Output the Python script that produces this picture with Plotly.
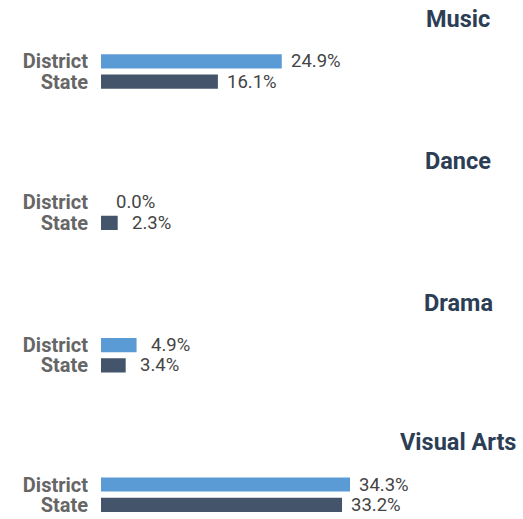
import plotly.graph_objects as go

groups = ["Music", "Dance", "Drama", "Visual Arts"]
series = ["District", "State"]
district = [24.9, 0.0, 4.9, 34.3]
state = [16.1, 2.3, 3.4, 33.2]
value_labels_d = ["24.9%", "0.0%", "4.9%", "34.3%"]
value_labels_s = ["16.1%", "2.3%", "3.4%", "33.2%"]

W, H = 523, 519
colors = ["#5b9bd5", "#44546a"]
# vertical pixel centres of each group's pair of bars, and title centres
bar_centres = [70.0, 212.3, 356.0, 496.5]
title_centres = [16.8, 160.2, 303.2, 443.7]
half = 20.5

fig = go.Figure()
layout = dict(
    width=W, height=H,
    margin=dict(l=0, r=0, t=0, b=0),
    paper_bgcolor="white", plot_bgcolor="white",
    showlegend=False,
    bargap=0.3,
    font=dict(family="Roboto"),
)
annotations = []
xmax = 422 / 7.26
for i, g in enumerate(groups):
    n = "" if i == 0 else str(i + 1)
    vals = [district[i], state[i]]
    labs = [value_labels_d[i], value_labels_s[i]]
    fig.add_trace(go.Bar(
        x=vals, y=series, orientation="h",
        marker=dict(color=colors, line=dict(width=0)),
        xaxis="x" + n, yaxis="y" + n, hoverinfo="skip",
    ))
    c = bar_centres[i]
    layout["xaxis" + n] = dict(
        domain=[101 / W, 1], range=[0, xmax], visible=False,
        anchor="y" + n, fixedrange=True,
    )
    layout["yaxis" + n] = dict(
        domain=[1 - (c + half) / H, 1 - (c - half) / H],
        anchor="x" + n, range=[1.5, -0.5], type="category",
        tickmode="array", tickvals=series, ticktext=series,
        showgrid=False, zeroline=False, showline=False, ticks="",
        tickfont=dict(family="Roboto", size=20, color="#666666", weight="bold"),
        ticklabelstandoff=12, fixedrange=True,
    )
    for v, s, lab in zip(vals, series, labs):
        annotations.append(dict(
            x=v, y=s, xref="x" + n, yref="y" + n, text=lab,
            showarrow=False, xanchor="center", yanchor="middle", xshift=34,
            font=dict(family="Roboto", size=18.5, color="#444444"),
        ))
    annotations.append(dict(
        x=458 / W, y=1 - title_centres[i] / H, xref="paper", yref="paper",
        text=g, showarrow=False, xanchor="center", yanchor="middle",
        font=dict(family="Roboto", size=23.5, color="#2c3e55", weight="bold"),
    ))
layout["annotations"] = annotations
fig.update_layout(**layout)
fig.write_html("out.html")
